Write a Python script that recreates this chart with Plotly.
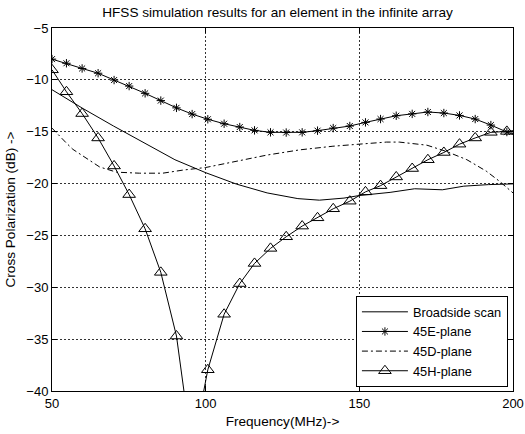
import plotly.graph_objects as go

# ---- data ----
freq_marked = [50, 54.7, 59.8, 65.0, 70.2, 75.1, 80.3, 85.4, 90.5, 95.6,
               100.7, 106.0, 111.1, 115.9, 121.1, 126.2, 131.4, 136.4, 141.5, 146.9,
               152.0, 156.9, 162.0, 167.2, 172.3, 177.5, 182.6, 187.7, 192.8, 198.0, 200]
e_plane = [-8.0, -8.4, -8.9, -9.36, -10.02, -10.6, -11.3, -12.0, -12.7, -13.3,
           -13.8, -14.23, -14.55, -14.87, -15.06, -15.08, -15.06, -14.9, -14.65, -14.45,
           -14.1, -13.78, -13.46, -13.28, -13.1, -13.2, -13.43, -13.78, -14.36, -15.03, -15.25]
h_plane = [-9.03, -11.15, -13.25, -15.6, -18.3, -21.06, -24.36, -28.56, -34.7, -45.8,
           -37.95, -32.6, -29.64, -27.7, -26.25, -25.13, -24.1, -23.3, -22.43, -21.7,
           -20.8, -20.2, -19.36, -18.55, -17.7, -17.0, -16.2, -15.6, -15.06, -14.97, -14.9]
marker_visible = [1] * 30 + [0]

freq_broadside = [50, 60, 70, 80, 90, 100, 110, 120, 130, 137, 145, 150, 160, 168, 177, 184, 192, 200]
broadside = [-10.95, -12.75, -14.45, -16.1, -17.7, -18.95, -20.05, -20.9, -21.45, -21.6,
             -21.4, -21.15, -20.85, -20.5, -20.6, -20.25, -20.1, -20.03]

freq_d = [50, 52.5, 54.7, 56.8, 61.2, 65.5, 71, 78.5, 86, 92.6, 100, 105, 110, 120,
          130.6, 141.4, 150, 158.8, 163, 172, 178.3, 185, 191.3, 195.7, 200]
d_plane = [-14.65, -15.45, -16.1, -16.7, -17.6, -18.4, -18.9, -19.0, -19.0, -18.7, -18.45,
           -18.15, -17.8, -17.25, -16.75, -16.4, -16.2, -16.0, -16.0, -16.3, -16.9, -17.7,
           -18.8, -19.8, -20.9]

FONT = "Liberation Sans, Arial, sans-serif"
W, H = 525, 434

fig = go.Figure()
fig.add_trace(go.Scatter(x=freq_broadside, y=broadside, mode="lines", name="Broadside scan",
                         line=dict(color="black", width=1)))
fig.add_trace(go.Scatter(x=freq_marked, y=e_plane, mode="lines+markers", name="45E-plane",
                         line=dict(color="black", width=1),
                         marker=dict(symbol="asterisk-open", size=7, opacity=marker_visible,
                                     color="black", line=dict(color="black", width=1))))
fig.add_trace(go.Scatter(x=freq_d, y=d_plane, mode="lines", name="45D-plane",
                         line=dict(color="black", width=1, dash="6px,3px,2px,3px")))
fig.add_trace(go.Scatter(x=freq_marked, y=h_plane, mode="lines+markers", name="45H-plane",
                         line=dict(color="black", width=1),
                         marker=dict(symbol="triangle-up-open", size=11, opacity=marker_visible,
                                     color="black", line=dict(color="black", width=1))))

axis_common = dict(showgrid=True, gridcolor="#333333", griddash="2px,2px", gridwidth=1,
                   showline=True, linecolor="black", linewidth=1, mirror="ticks",
                   ticks="inside", ticklen=5, tickcolor="black", zeroline=False,
                   automargin=False,
                   tickfont=dict(family=FONT, size=13, color="black"))

fig.update_layout(
    template="none",
    width=W, height=H, autosize=False,
    margin=dict(l=52, r=12, t=28, b=43, pad=0),
    paper_bgcolor="white", plot_bgcolor="white",
    font=dict(family=FONT, size=13, color="black"),
    title=dict(text="HFSS simulation results for an element in the infinite array",
               x=277.5 / W, xanchor="center", xref="container",
               y=1 - 12.7 / H, yanchor="middle", yref="container",
               font=dict(family=FONT, size=13.6, color="black")),
    xaxis=dict(range=[50, 200], dtick=50, tick0=50,
               title=dict(text="Frequency(MHz)->", standoff=6,
                          font=dict(family=FONT, size=13.6)),
               **axis_common),
    yaxis=dict(range=[-40, -5], dtick=5, tick0=-40,
               title=dict(text="Cross Polarization (dB) ->", standoff=7,
                          font=dict(family=FONT, size=13.6)),
               **axis_common),
    legend=dict(x=0.989, y=0.011, xanchor="right", yanchor="bottom",
                bgcolor="white", bordercolor="black", borderwidth=1,
                font=dict(family=FONT, size=12.8, color="black"),
                itemwidth=46, tracegroupgap=0),
    showlegend=True,
)

# remove the browser's default 8px page margin so the figure fills the window exactly
fig.write_html("out.html", config={"displayModeBar": False},
               post_script="document.body.style.margin='0';")
